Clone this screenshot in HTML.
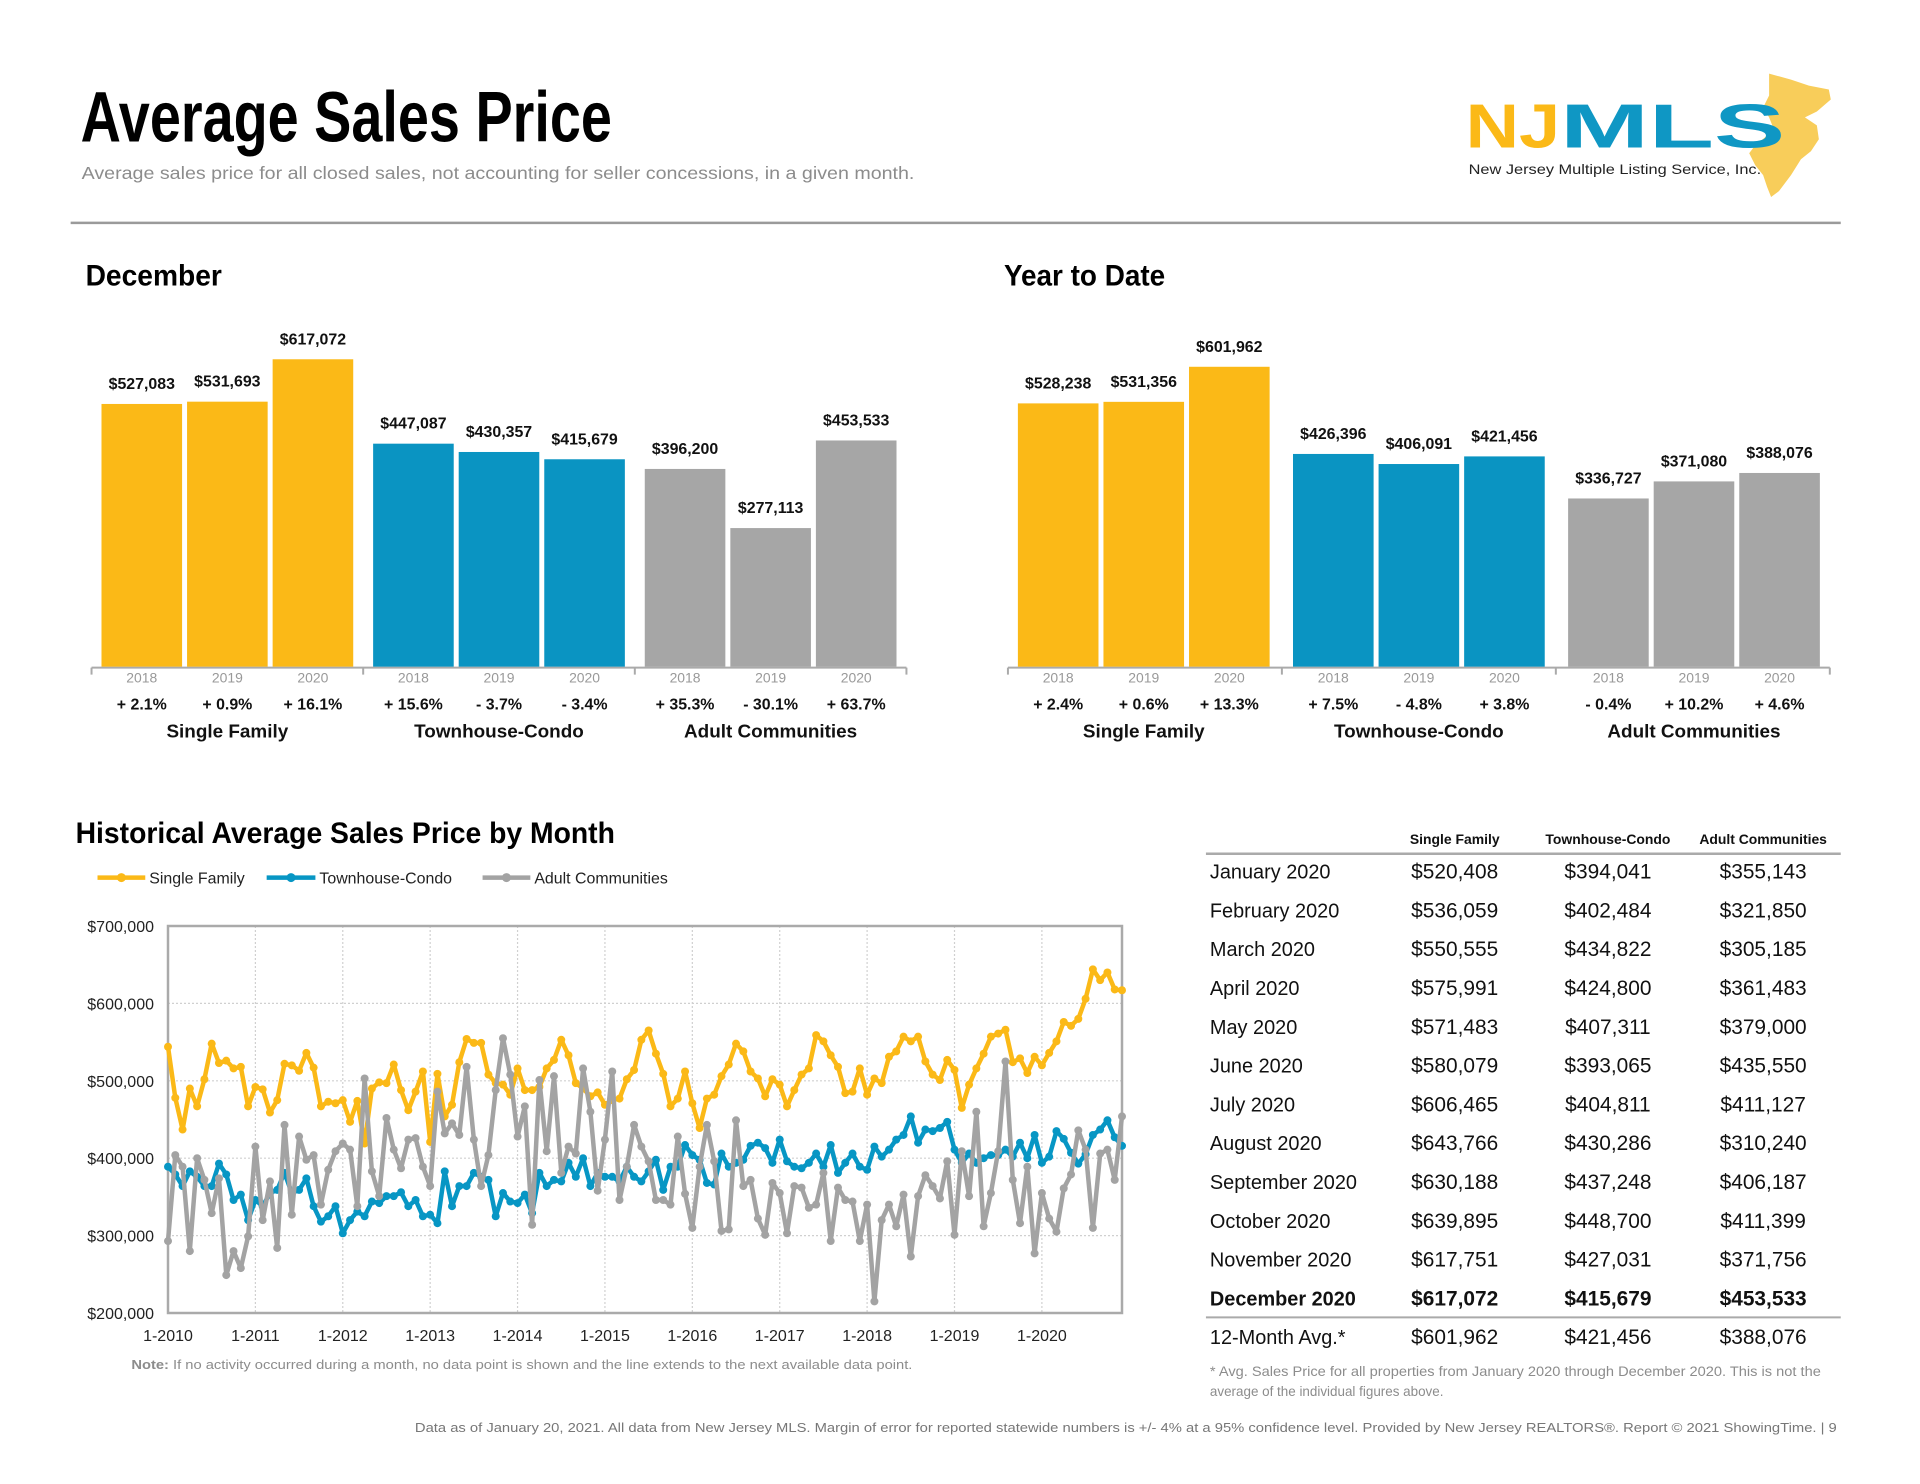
<!DOCTYPE html>
<html><head><meta charset="utf-8"><style>
html,body{margin:0;padding:0;background:#fff;}
svg{display:block;font-family:"Liberation Sans",Arial,sans-serif;}
</style></head><body>
<svg id="pg" width="1920" height="1484" viewBox="0 0 1920 1484" xmlns="http://www.w3.org/2000/svg">
<g id="root" transform="scale(0.995)">
<text x="81" y="142" font-size="72" font-weight="bold" textLength="534" lengthAdjust="spacingAndGlyphs" fill="#000">Average Sales Price</text>
<text x="82" y="180" font-size="18" fill="#8c8c8c" textLength="837" lengthAdjust="spacingAndGlyphs">Average sales price for all closed sales, not accounting for seller concessions, in a given month.</text>
<line x1="71" y1="224" x2="1850" y2="224" stroke="#9a9a9a" stroke-width="2.5"/>
<g>
<path d="M1778 74 L1800 80 L1818 86 L1838 90 L1840 100 L1826 112 L1814 118 L1826 126 L1828 140 L1820 152 L1810 160 L1800 176 L1788 192 L1780 198 L1776 188 L1772 176 L1764 166 L1758 154 L1764 146 L1774 138 L1782 128 L1778 118 L1772 108 L1778 96 Z" fill="#f8cd5a"/>
<text x="1473" y="148" font-size="62" font-weight="bold" fill="#fbb917" textLength="95" lengthAdjust="spacingAndGlyphs">NJ</text>
<text x="1568" y="148" font-size="62" font-weight="bold" fill="#0f97c4" textLength="226" lengthAdjust="spacingAndGlyphs">MLS</text>
<text x="1476" y="175" font-size="14" fill="#222" textLength="294" lengthAdjust="spacingAndGlyphs">New Jersey Multiple Listing Service, Inc.</text>
</g>
<text x="86" y="287" font-size="30" font-weight="bold" textLength="137" lengthAdjust="spacingAndGlyphs">December</text>
<text x="1009" y="287" font-size="30" font-weight="bold" textLength="162" lengthAdjust="spacingAndGlyphs">Year to Date</text>
<g id="bars"></g>
<text x="76" y="847" font-size="30" font-weight="bold" textLength="542" lengthAdjust="spacingAndGlyphs">Historical Average Sales Price by Month</text>
<g id="legend"></g>
<g id="tbl"></g>
<text x="132" y="1376" font-size="13" fill="#8c8c8c" textLength="785" lengthAdjust="spacingAndGlyphs"><tspan font-weight="bold">Note:</tspan> If no activity occurred during a month, no data point is shown and the line extends to the next available data point.</text>
<text x="1216" y="1383" font-size="13.5" fill="#8c8c8c" textLength="614" lengthAdjust="spacingAndGlyphs">* Avg. Sales Price for all properties from January 2020 through December 2020. This is not the</text>
<text x="1216" y="1403" font-size="13.5" fill="#8c8c8c">average of the individual figures above.</text>
<text x="1846" y="1439" font-size="13" fill="#777" text-anchor="end" textLength="1429" lengthAdjust="spacingAndGlyphs">Data as of January 20, 2021. All data from New Jersey MLS. Margin of error for reported statewide numbers is +/- 4% at a 95% confidence level. Provided by New Jersey REALTORS®. Report © 2021 ShowingTime.  |  9</text>
</g>
<g id="line"></g>
</svg>
<script>
const NS="http://www.w3.org/2000/svg";
const barYears=["2018","2019","2020"];
const barCats=["Single Family","Townhouse-Condo","Adult Communities"];
const decSF=[527083,531693,617072];
const decTC=[447087,430357,415679];
const decAC=[396200,277113,453533];
const decPct=[["+ 2.1%","+ 0.9%","+ 16.1%"],["+ 15.6%","- 3.7%","- 3.4%"],["+ 35.3%","- 30.1%","+ 63.7%"]];
const ytdSF=[528238,531356,601962];
const ytdTC=[426396,406091,421456];
const ytdAC=[336727,371080,388076];
const ytdPct=[["+ 2.4%","+ 0.6%","+ 13.3%"],["+ 7.5%","- 4.8%","+ 3.8%"],["- 0.4%","+ 10.2%","+ 4.6%"]];

const lineSF=[544,478,437,490,467,502,548,523,526,516,518,467,
492,489,459,475,522,520,513,536,517,467,473,471,
475,447,474,419,490,498,497,521,488,462,486,512,
421,509,454,469,524,554,549,549,508,497,495,482,
516,488,488,492,516,527,553,533,497,490,480,485,
469,475,477,502,514,553,565,535,509,467,477,512,
471,439,477,482,506,521,548,538,512,503,480,502,
495,467,488,508,516,559,551,533,518,484,486,516,
482,503,497,531,538,557,551,557,525,508,501,527,
514,465,495,516,535,557,561,566,524,529,510,531,
520,536,551,576,571,580,606,644,630,640,618,617];
const lineTC=[389,379,364,383,376,364,364,393,379,346,353,320,
346,338,355,359,381,355,359,374,338,318,325,338,
303,320,331,325,344,342,351,351,356,338,346,325,
327,316,383,338,364,364,381,376,372,325,355,344,
342,353,329,381,364,372,370,394,376,400,364,381,
376,376,370,389,376,370,383,398,359,389,389,417,
404,398,368,366,406,389,394,398,416,420,413,394,
424,396,389,387,394,406,389,417,381,394,406,389,
385,415,402,411,424,430,454,420,437,435,439,447,
411,394,406,394,400,404,404,411,402,420,400,430,
394,402,435,425,407,393,405,430,437,449,427,416];
const lineAC=[293,404,389,280,400,372,329,374,249,280,258,299,
415,320,370,284,443,327,428,398,404,340,385,409,
419,411,338,503,383,351,452,411,387,424,426,389,
364,486,432,445,430,518,424,364,404,488,555,508,
428,467,314,501,409,506,381,415,406,516,460,358,
424,512,346,389,443,415,396,346,346,340,428,354,
310,389,443,396,306,308,449,364,372,322,301,368,
355,303,364,362,336,340,381,293,362,346,344,293,
340,215,320,340,312,353,273,351,378,364,348,396,
301,409,351,460,312,355,409,525,372,316,389,277,
355,322,305,361,379,436,411,310,406,411,372,454];
const yTicks=[200000,300000,400000,500000,600000,700000];
const xTickLabels=["1-2010","1-2011","1-2012","1-2013","1-2014","1-2015","1-2016","1-2017","1-2018","1-2019","1-2020"];
const seriesNames=["Single Family","Townhouse-Condo","Adult Communities"];

const tblMonths=["January 2020","February 2020","March 2020","April 2020","May 2020","June 2020","July 2020","August 2020","September 2020","October 2020","November 2020","December 2020","12-Month Avg.*"];
const tblSF=["$520,408","$536,059","$550,555","$575,991","$571,483","$580,079","$606,465","$643,766","$630,188","$639,895","$617,751","$617,072","$601,962"];
const tblTC=["$394,041","$402,484","$434,822","$424,800","$407,311","$393,065","$404,811","$430,286","$437,248","$448,700","$427,031","$415,679","$421,456"];
const tblAC=["$355,143","$321,850","$305,185","$361,483","$379,000","$435,550","$411,127","$310,240","$406,187","$411,399","$371,756","$453,533","$388,076"];

const COLORS=["#fbb917","#0a94c2","#a6a6a6"];
const LCOL=["#fbb917","#0796c4","#a3a3a3"];
function mk(tag,attrs,parent,txt){const e=document.createElementNS(NS,tag);for(const k in attrs)e.setAttribute(k,attrs[k]);if(txt!==undefined)e.textContent=txt;parent.appendChild(e);return e;}
const fmt=v=>"$"+v.toLocaleString("en-US");

// bar charts
const barsG=document.getElementById("bars");
function barChart(name,x0,gstep,sets,pcts){
  const g=mk("g",{},barsG);
  
  
  const base=669, k=0.000499, bw=81, step=86;
  const axL=x0-10, axR=x0+2*gstep+step*2+bw+10;
  const ax=mk("line",{x1:axL,y1:671,x2:axR,y2:671,stroke:"#aaa","stroke-width":2},g);
  
  
  for(let t=0;t<4;t++){const tx=axL+t*(axR-axL)/3;const tk=mk("line",{x1:tx,y1:671,x2:tx,y2:678,stroke:"#aaa","stroke-width":2},g);
    
    }
  sets.forEach((vals,ci)=>{
    const gx=x0+ci*gstep;
    vals.forEach((v,i)=>{
      const x=gx+i*step,h=v*k;
      const r=mk("rect",{x:x,y:base-h,width:bw,height:h+1,fill:COLORS[ci]},g);
      
      
      const lb=mk("text",{x:x+bw/2,y:base-h-15,"text-anchor":"middle","font-size":16,"font-weight":"bold",fill:"#111"},g,fmt(v));
      
      
      const yl=mk("text",{x:x+bw/2,y:686,"text-anchor":"middle","font-size":14,fill:"#999"},g,barYears[i]);
      
      
      const pl=mk("text",{x:x+bw/2,y:713,"text-anchor":"middle","font-size":16,"font-weight":"bold",fill:"#111"},g,pcts[ci][i]);
      
      
    });
    const cl=mk("text",{x:gx+step+bw/2,y:741,"text-anchor":"middle","font-size":19,"font-weight":"bold",fill:"#111"},g,barCats[ci]);
    
    
  });
}
barChart("december-bar-chart",102,273,[decSF,decTC,decAC],decPct);
barChart("ytd-bar-chart",1023,276.5,[ytdSF,ytdTC,ytdAC],ytdPct);

// line chart
const lg=document.getElementById("line");


const PL=168,PR=1122,PT=926,PB=1313;
const N=lineSF.length;
const xS=i=>PL+i*(PR-PL)/(N-1);
const yS=v=>PB-(v-200000)*(PB-PT)/500000;
yTicks.forEach(t=>{
  const gl=mk("line",{x1:PL,y1:yS(t),x2:PR,y2:yS(t),stroke:"#d0d0d0","stroke-width":1.2,"stroke-dasharray":"2,2"},lg);
  
  
  const tl=mk("text",{x:154,y:yS(t)+6,"text-anchor":"end","font-size":16,fill:"#222"},lg,"$"+t.toLocaleString("en-US"));
  
  
});
xTickLabels.forEach((l,j)=>{
  const x=xS(j*12);
  const gl=mk("line",{x1:x,y1:PT,x2:x,y2:PB,stroke:"#d0d0d0","stroke-width":1.2,"stroke-dasharray":"2,2"},lg);
  
  
  const tl=mk("text",{x:x,y:1341,"text-anchor":"middle","font-size":16,fill:"#222"},lg,l);
  
  
});
const frame=mk("rect",{x:PL,y:PT,width:PR-PL,height:PB-PT,fill:"none",stroke:"#aaa","stroke-width":2.5},lg);


[[lineSF,0],[lineTC,1],[lineAC,2]].forEach(([arr,ci])=>{
  const sg=mk("g",{},lg);
  
  
  const pts=arr.map((v,i)=>xS(i).toFixed(1)+","+yS(v*1000).toFixed(1)).join(" ");
  const pl=mk("polyline",{points:pts,fill:"none",stroke:LCOL[ci],"stroke-width":4.5,"stroke-linejoin":"round"},sg);
  
  
  arr.forEach((v,i)=>{
    const c=mk("circle",{cx:xS(i),cy:yS(v*1000),r:4,fill:LCOL[ci]},sg);
    
    
  });
});
// legend
const legG=document.getElementById("legend");
const legX=[[98,150],[268,321],[485,537]];
seriesNames.forEach((n,ci)=>{
  const g=mk("g",{},legG);
  
  
  mk("line",{x1:legX[ci][0],y1:882,x2:legX[ci][1]-4,y2:882,stroke:LCOL[ci],"stroke-width":4.5},g);
  mk("circle",{cx:(legX[ci][0]+legX[ci][1]-4)/2,cy:882,r:4.5,fill:LCOL[ci]},g);
  mk("text",{x:legX[ci][1],y:888,"font-size":16,fill:"#222"},g,n);
});

// table
const tg=document.getElementById("tbl");


const colX=[1462,1616,1772];
seriesNames.forEach((n,ci)=>{
  const h=mk("text",{x:colX[ci],y:848,"text-anchor":"middle","font-size":14,"font-weight":"bold",fill:"#111"},tg,n);
  
  
});
const hl=mk("line",{x1:1212,y1:858,x2:1850,y2:858,stroke:"#aaa","stroke-width":2.5},tg);


const al=mk("line",{x1:1212,y1:1324,x2:1850,y2:1324,stroke:"#aaa","stroke-width":2},tg);


tblMonths.forEach((m,i)=>{
  const y=(i<12?875+i*39.0:1343)+8;
  const bold=(i===11)?"bold":"normal";
  const r=mk("g",{},tg);
  
  
  mk("text",{x:1216,y:y,"font-size":20,"font-weight":bold,fill:"#111"},r,m);
  [tblSF,tblTC,tblAC].forEach((col,ci)=>{
    mk("text",{x:colX[ci],y:y,"text-anchor":"middle","font-size":21,"font-weight":bold,fill:"#111"},r,col[i]);
  });
});
</script>
</body></html>
